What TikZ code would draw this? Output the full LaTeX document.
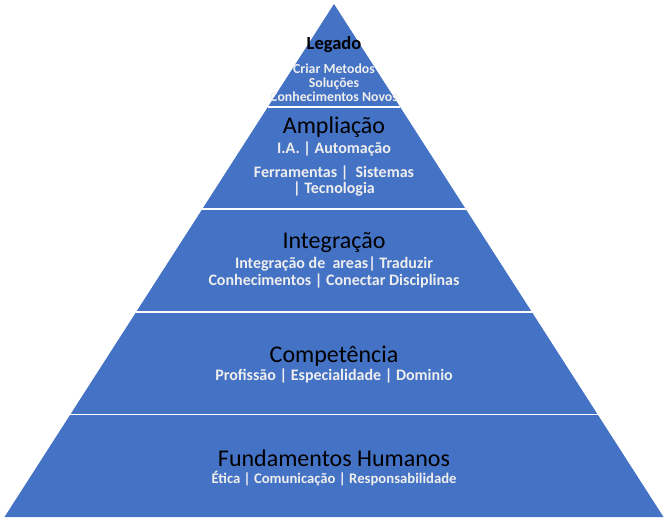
\documentclass[tikz,border=0pt]{standalone}
\usepackage{fontspec}
\setmainfont{Carlito}
\usepackage{xcolor}
\usepackage{tikz}
\usetikzlibrary{positioning}

\definecolor{layerblue}{HTML}{4472C4}
\definecolor{subwhite}{HTML}{EEEEEE}

\begin{document}
\begin{tikzpicture}[
    x=1pt, y=-1pt,
    layer/.style={fill=layerblue},
    divider/.style={draw=white, line width=1.8pt},
    title/.style={anchor=base, inner sep=0pt, text=black, font=\fontsize{24}{26}\selectfont},
    toptitle/.style={anchor=base, inner sep=0pt, text=black, font=\fontsize{18.5}{20}\selectfont\bfseries},
    subtitle/.style={anchor=base, inner sep=0pt, text=subwhite, font=\fontsize{16}{17}\selectfont\bfseries},
    basesub/.style={anchor=base, inner sep=0pt, text=subwhite, font=\fontsize{14.7}{16}\selectfont\bfseries},
    topsub/.style={anchor=base, inner sep=0pt, text=subwhite, font=\fontsize{13.8}{15}\selectfont\bfseries}
]
\useasboundingbox (0,0) rectangle (666,530);

% pyramid body
\coordinate (apex) at (334,4);
\coordinate (baseL) at (4.5,517);
\coordinate (baseR) at (663.5,517);
\fill[layer] (apex) -- (baseR) -- (baseL) -- cycle;

% white gaps between the layers
\foreach \k in {1,2,3,4} {
    \coordinate (divL\k) at ({334-65.9*\k},{4+102.6*\k});
    \coordinate (divR\k) at ({334+65.9*\k},{4+102.6*\k});
    \draw[divider] (divL\k) -- (divR\k);
}

% Legado
\node[toptitle] (legado) at (334,49) {Legado};
\node[topsub] (legado1) at (334,73) {Criar Metodos};
\node[topsub] (legado2) at (334,87) {Soluções};
\node[topsub] (legado3) at (334,101) {Conhecimentos Novos};

% Ampliacao
\node[title] (ampliacao) at (334,133) {Ampliação};
\node[subtitle] (ampliacao1) at (334,153) {I.A. | Automação};
\node[subtitle] (ampliacao2) at (334,177) {Ferramentas |\ \ Sistemas};
\node[subtitle] (ampliacao3) at (334,193) {| Tecnologia};

% Integracao
\node[title] (integracao) at (334,248) {Integração};
\node[subtitle] (integracao1) at (334,268) {Integração de\ \ areas| Traduzir};
\node[subtitle] (integracao2) at (334,285) {Conhecimentos | Conectar Disciplinas};

% Competencia
\node[title] (competencia) at (334,362) {Competência};
\node[subtitle] (competencia1) at (334,380) {Profissão | Especialidade | Dominio};

% Fundamentos
\node[title] (fundamentos) at (334,466) {Fundamentos Humanos};
\node[basesub] (fundamentos1) at (334,483.5) {Ética | Comunicação | Responsabilidade};

\end{tikzpicture}
\end{document}
